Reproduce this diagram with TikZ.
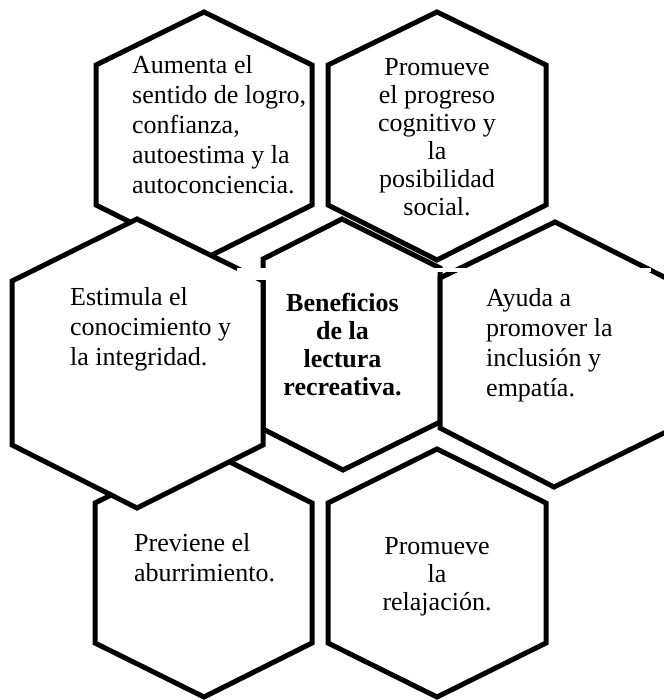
\documentclass[tikz,border=0pt]{standalone}
\usepackage{fontspec}
\setmainfont{Liberation Serif}
\begin{document}
\begin{tikzpicture}[x=1pt,y=-1pt,
  hex/.style={draw=black, line width=5pt, fill=white, miter limit=10},
  gap/.style={fill=white, draw=none},
  txtl/.style={font=\fontsize{26}{30}\selectfont, inner sep=0pt, align=left, anchor=north west},
  txtc/.style={font=\fontsize{26}{28}\selectfont, inner sep=0pt, align=center, anchor=north},
  txtb/.style={font=\fontsize{26}{28}\selectfont\bfseries, inner sep=0pt, align=center, anchor=north}]
\useasboundingbox (0,0) rectangle (663,700);
% hexagons
\draw[hex] (204,12) -- (312,65) -- (312,205) -- (204,259) -- (96,205) -- (96,65) -- cycle;
\draw[hex] (437,12) -- (546,65) -- (546,205) -- (437,260) -- (328,205) -- (328,65) -- cycle;
\draw[hex] (204,449) -- (312,503) -- (312,643) -- (204,697) -- (95,643) -- (95,503) -- cycle;
\draw[hex] (437,449) -- (546,503) -- (546,643) -- (437,697) -- (328,643) -- (328,503) -- cycle;
\draw[hex] (342,219) -- (440,268) -- (440,422) -- (343,470) -- (263,429) -- (263,259) -- cycle;
\draw[hex] (555,222) -- (670,280) -- (670,430) -- (554,487) -- (440,428) -- (440,278) -- cycle;
\draw[hex] (137,219) -- (263,281) -- (263,445) -- (137,508) -- (12,445) -- (12,281) -- cycle;
% white gaps
\fill[gap] (237,267.5) rectangle (437,280);
\fill[gap] (437,267.5) rectangle (651,271.5);
% texts
\node[txtl] (tTL) at (132,55) {Aumenta el\\sentido de logro,\\confianza,\\autoestima y la\\autoconciencia.};
\node[txtc] (tTR) at (437,58) {Promueve\\el progreso\\cognitivo y\\la\\posibilidad\\social.};
\node[txtb] (tC) at (342.5,293) {Beneficios\\de la\\lectura\\recreativa.};
\node[txtl] (tL) at (70,287) {Estimula el\\conocimiento y\\la integridad.};
\node[txtl] (tR) at (486,288) {Ayuda a\\promover la\\inclusión y\\empatía.};
\node[txtl] (tBL) at (134,533) {Previene el\\aburrimiento.};
\node[txtc] (tBR) at (437,537) {Promueve\\la\\relajación.};
\end{tikzpicture}
\end{document}
